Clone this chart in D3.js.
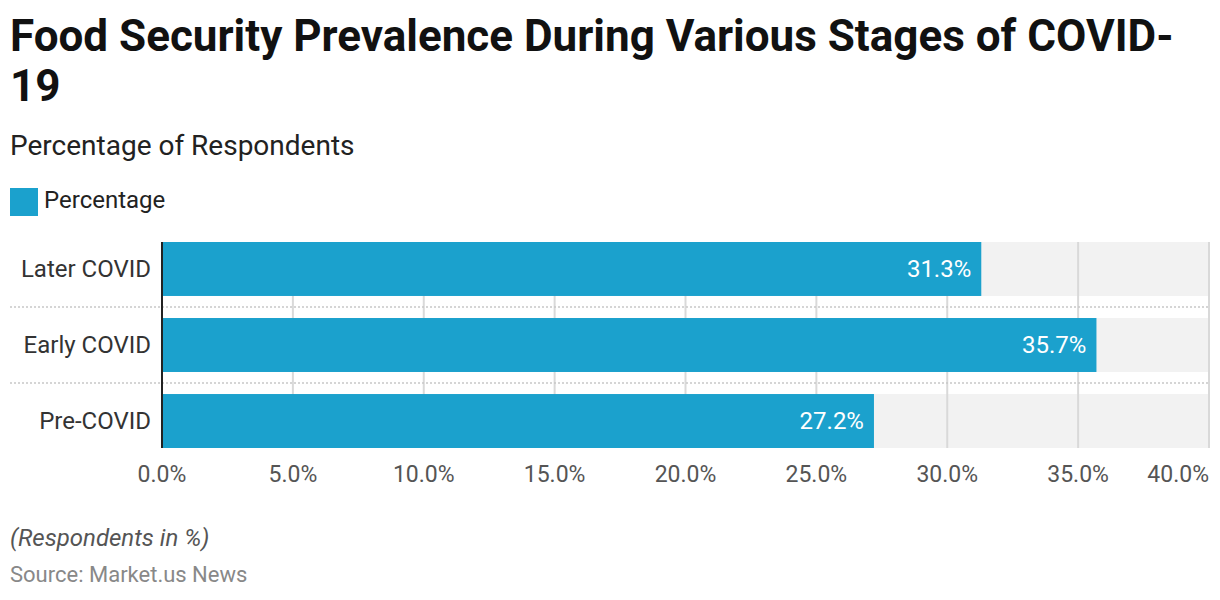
<!DOCTYPE html>
<html>
<head>
<meta charset="utf-8">
<script src="https://cdn.jsdelivr.net/npm/d3@7"></script>
<style>
  body { margin: 0; background: #fff; }
  svg { font-family: Roboto, sans-serif; }
</style>
</head>
<body>
<div id="chart"></div>
<script>
var categories = ["Later COVID", "Early COVID", "Pre-COVID"];
var values = [31.3, 35.7, 27.2];
var xTicks = [0, 5, 10, 15, 20, 25, 30, 35, 40];

var width = 1220, height = 600;
var svg = d3.select("#chart").append("svg")
    .attr("width", width)
    .attr("height", height);

// titles
var title = svg.append("text")
    .attr("x", 10)
    .attr("font-size", 44)
    .attr("font-weight", 700)
    .attr("fill", "#111");
title.append("tspan").attr("x", 10).attr("y", 51).text("Food Security Prevalence During Various Stages of COVID-");
title.append("tspan").attr("x", 10).attr("y", 101).text("19");

svg.append("text")
    .attr("x", 10).attr("y", 155)
    .attr("font-size", 28)
    .attr("fill", "#222")
    .text("Percentage of Respondents");

// legend
svg.append("rect")
    .attr("x", 10).attr("y", 188)
    .attr("width", 28).attr("height", 28)
    .attr("fill", "#1ba1cd");
svg.append("text")
    .attr("x", 44).attr("y", 208)
    .attr("font-size", 24)
    .attr("fill", "#222")
    .text("Percentage");

var x = d3.scaleLinear().domain([0, 40]).range([162, 1209]);
var y = d3.scaleBand().domain(categories).range([242, 448]).paddingInner(0.29);

// row backgrounds
svg.selectAll(".bg").data(categories).enter().append("rect")
    .attr("x", x(0)).attr("y", function(d) { return y(d); })
    .attr("width", x(40) - x(0)).attr("height", y.bandwidth())
    .attr("fill", "#f2f2f2");

// grid lines
svg.selectAll(".grid").data(xTicks.slice(1)).enter().append("line")
    .attr("x1", function(d) { return x(d); }).attr("x2", function(d) { return x(d); })
    .attr("y1", 242).attr("y2", 448)
    .attr("stroke", "#d9d9d9").attr("stroke-width", 2);

// dotted separators between rows
for (var i = 1; i < categories.length; i++) {
    var sy = y(categories[i]) - (y.step() - y.bandwidth()) / 2;
    svg.append("line")
        .attr("x1", 10).attr("x2", 1210)
        .attr("y1", sy).attr("y2", sy)
        .attr("stroke", "#c8c8c8").attr("stroke-width", 1.5)
        .attr("stroke-dasharray", "2,2");
}

// bars
svg.selectAll(".bar").data(values).enter().append("rect")
    .attr("x", x(0))
    .attr("y", function(d, i) { return y(categories[i]); })
    .attr("width", function(d) { return x(d) - x(0); })
    .attr("height", y.bandwidth())
    .attr("fill", "#1ba1cd");

// value labels
svg.selectAll(".val").data(values).enter().append("text")
    .attr("x", function(d) { return x(d) - 10; })
    .attr("y", function(d, i) { return y(categories[i]) + y.bandwidth() / 2 + 8; })
    .attr("text-anchor", "end")
    .attr("font-size", 24)
    .attr("fill", "#fff")
    .text(function(d) { return d.toFixed(1) + "%"; });

// category labels
svg.selectAll(".cat").data(categories).enter().append("text")
    .attr("x", 151)
    .attr("y", function(d) { return y(d) + y.bandwidth() / 2 + 8; })
    .attr("text-anchor", "end")
    .attr("font-size", 24)
    .attr("fill", "#333")
    .text(function(d) { return d; });

// y axis line
svg.append("line")
    .attr("x1", x(0)).attr("x2", x(0))
    .attr("y1", 242).attr("y2", 448)
    .attr("stroke", "#222").attr("stroke-width", 2);

// x tick labels
svg.selectAll(".tick").data(xTicks).enter().append("text")
    .attr("x", function(d) { return x(d); })
    .attr("y", 482)
    .attr("text-anchor", function(d, i) { return i === xTicks.length - 1 ? "end" : "middle"; })
    .attr("font-size", 23)
    .attr("fill", "#555")
    .text(function(d) { return d.toFixed(1) + "%"; });

// footer
svg.append("text")
    .attr("x", 10).attr("y", 546)
    .attr("font-size", 24)
    .attr("font-style", "italic")
    .attr("fill", "#555")
    .text("(Respondents in %)");
svg.append("text")
    .attr("x", 10).attr("y", 582)
    .attr("font-size", 22)
    .attr("fill", "#888")
    .text("Source: Market.us News");
</script>
</body>
</html>
